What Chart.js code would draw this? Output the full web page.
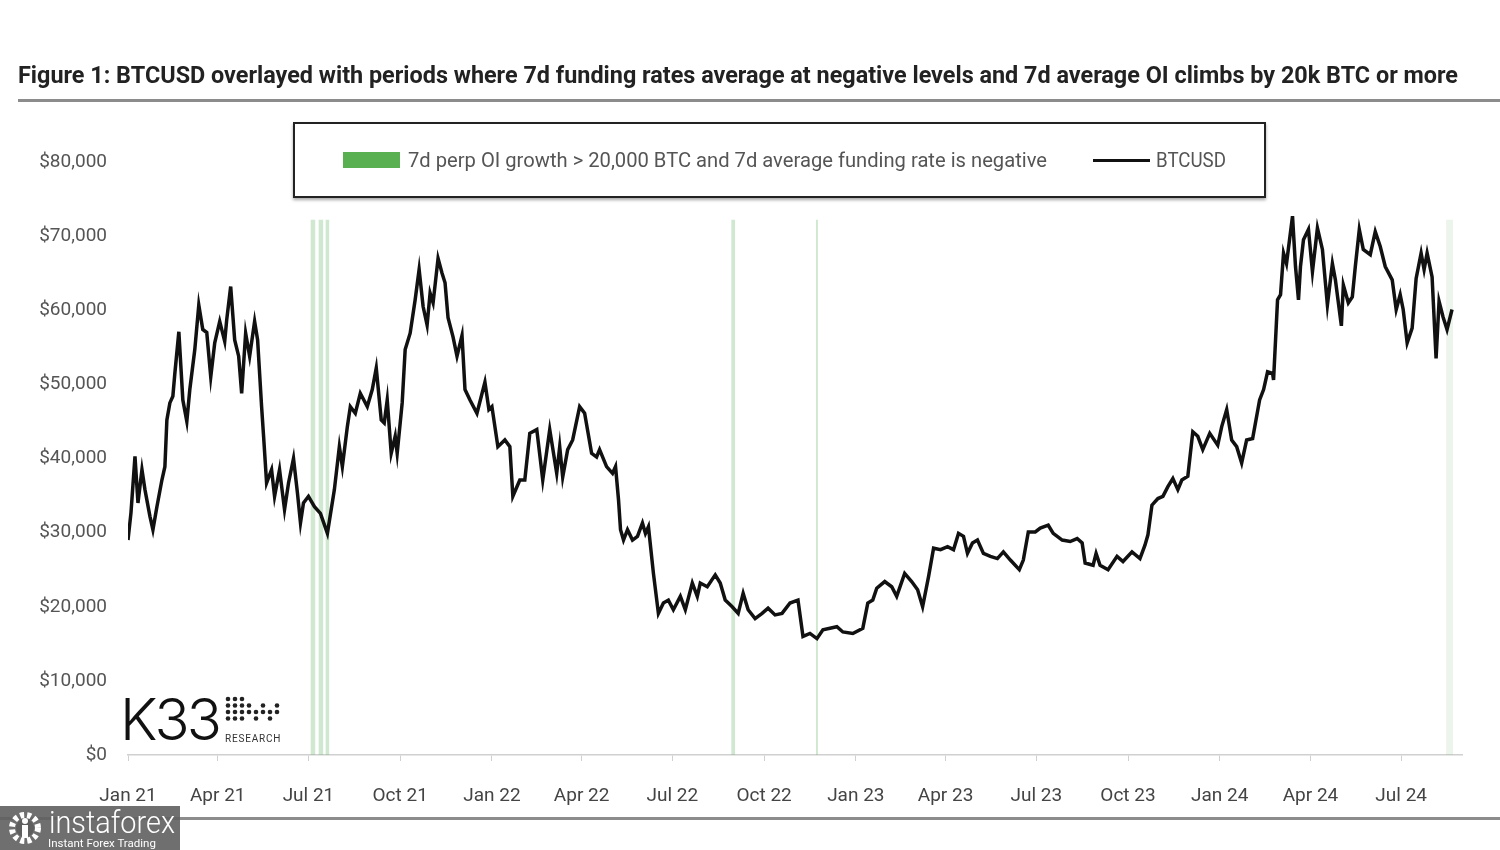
<!DOCTYPE html>
<html>
<head>
<meta charset="utf-8">
<script src="https://cdn.jsdelivr.net/npm/chart.js@4.4.1/dist/chart.umd.min.js"></script>
<style>
  body { margin: 0; background: #fff; overflow: hidden; font-family: Roboto, sans-serif; }
  #wrap { position: relative; width: 1500px; height: 850px; }
  #chart-box { position: absolute; left: 0; top: 0; width: 1500px; height: 850px; }
  .title { position: absolute; left: 18px; top: 61px; font-size: 24px; font-weight: 700; color: #222; white-space: nowrap; transform-origin: left top; }
  .rule { position: absolute; background: #8c8c8c; height: 3px; }
  .legend { position: absolute; left: 293px; top: 122px; width: 969px; height: 72px; border: 2px solid #222; box-shadow: 0 2px 3px rgba(0,0,0,0.35); background: #fff; }
  .legend .swatch { position: absolute; left: 48px; top: 28px; width: 57px; height: 16px; background: #58b050; }
  .legend .txt { position: absolute; top: 24px; font-size: 20px; color: #555; white-space: nowrap; transform-origin: left top; }
  .legend .ln { position: absolute; left: 798px; top: 35px; width: 57px; height: 3px; background: #111; }
  .k33 { position: absolute; left: 120px; top: 684px; font-family: Inter, sans-serif; font-weight: 300; font-size: 58px; letter-spacing: -3px; color: #111; }
  .research { position: absolute; left: 225px; top: 733px; font-size: 10px; letter-spacing: 0.8px; color: #333; }
  .insta { position: absolute; left: 0; top: 806px; width: 180px; height: 44px; background: rgba(95,95,95,0.9); color: #fff; }
  .insta .big { position: absolute; left: 49px; top: -3px; font-size: 32px; font-weight: 300; white-space: nowrap; transform-origin: left top; }
  .insta .small { position: absolute; left: 48px; top: 30px; font-size: 11.5px; white-space: nowrap; }
</style>
</head>
<body>
<div id="wrap">
  <div id="chart-box"><canvas id="chart"></canvas></div>
  <div class="title" id="title">Figure 1: BTCUSD overlayed with periods where 7d funding rates average at negative levels and 7d average OI climbs by 20k BTC or more</div>
  <div class="rule" style="left:18px; top:99px; width:1482px;"></div>
  <div class="rule" style="left:0; top:817px; width:1500px;"></div>
  <div class="legend">
    <div class="swatch"></div>
    <div class="txt" id="legend-text" style="left:113px;">7d perp OI growth &gt; 20,000 BTC and 7d average funding rate is negative</div>
    <div class="ln"></div>
    <div class="txt" id="legend-btc" style="left:861px;">BTCUSD</div>
  </div>
  <div class="k33">K33</div>
  <svg id="dots" style="position:absolute; left:224px; top:695px;" width="58" height="30"></svg>
  <div class="research">RESEARCH</div>
  <div class="insta">
    <svg style="position:absolute; left:6px; top:4px;" width="38" height="36" viewBox="0 0 38 36">
      <circle cx="19" cy="18" r="13" fill="none" stroke="#fff" stroke-width="6" stroke-dasharray="4 3"/>
      <circle cx="19" cy="18" r="9" fill="rgba(95,95,95,1)"/>
      <circle cx="19" cy="11" r="3" fill="#fff"/>
      <rect x="16" y="15" width="6" height="13" fill="#fff"/>
    </svg>
    <div class="big" id="insta-big">instaforex</div>
    <div class="small">Instant Forex Trading</div>
  </div>
</div>
<script>
// days since 1 Jan 2021
const days = [
  0, 3, 7, 10, 14, 17, 22, 25, 29, 34, 37, 39, 42, 45, 47, 51, 55, 59, 62, 67,
  71, 75, 79, 83, 87, 92, 97, 99, 103, 107, 111, 114, 118, 122, 127, 130, 134, 136, 139, 144,
  147, 152, 157, 161, 166, 170, 173, 176, 181, 187, 193, 200, 207, 212, 215, 220, 223, 228, 233, 240,
  245, 249, 254, 257, 260, 264, 268, 270, 275, 278, 283, 288, 292, 296, 300, 303, 306, 311, 315, 318,
  321, 326, 330, 335, 338, 343, 350, 358, 362, 365, 371, 378, 383, 386, 393, 398, 403, 410, 416, 423,
  430, 433, 436, 441, 446, 453, 458, 465, 470, 473, 480, 486, 489, 492, 494, 497, 501, 506, 511, 516,
  519, 522, 527, 532, 537, 542, 547, 554, 559, 566, 571, 574, 581, 589, 594, 599, 606, 612, 617, 622,
  629, 636, 642, 649, 656, 664, 672, 677, 684, 691, 697, 711, 717, 727, 737, 742, 747, 751, 759, 766,
  771, 779, 786, 792, 797, 803, 808, 815, 822, 828, 833, 838, 842, 847, 852, 858, 865, 872, 878, 885,
  894, 898, 903, 910, 915, 923, 928, 937, 945, 952, 957, 960, 968, 971, 975, 983, 992, 998, 1007, 1015,
  1020, 1023, 1027, 1033, 1038, 1043, 1048, 1053, 1057, 1063, 1068, 1073, 1078, 1085, 1093, 1097, 1102, 1107, 1112, 1117,
  1122, 1128, 1135, 1139, 1143, 1148, 1149, 1153, 1156, 1159, 1162, 1168, 1171, 1174, 1176, 1179, 1184, 1188, 1193, 1198,
  1201, 1203, 1208, 1211, 1217, 1219, 1224, 1228, 1231, 1235, 1239, 1246, 1251, 1256, 1261, 1268, 1272, 1276, 1279, 1283,
  1288, 1292, 1297, 1300, 1303, 1308, 1312, 1315, 1319, 1323, 1328
];
const btcusd = [
  29000, 32700, 40300, 34000, 38500, 35800, 32200, 30400, 33500, 37100, 38900, 45200, 47500, 48400, 51500, 57100, 47900, 45000, 49300, 54700,
  60700, 57400, 57000, 51000, 55600, 58500, 55800, 58700, 63200, 56000, 53800, 48800, 56900, 53800, 58500, 56000, 47000, 43000, 36700, 38500,
  34900, 38500, 33100, 36700, 40000, 35300, 31300, 34000, 34900, 33500, 32600, 29900, 35800, 41600, 38900, 44300, 47000, 46100, 48800, 47000,
  49300, 52200, 45200, 44800, 47900, 40700, 43000, 40700, 47500, 54700, 56900, 61400, 65500, 60500, 58000, 62300, 61000, 67000, 65000, 63700,
  59000, 56400, 53800, 56600, 49300, 47900, 46100, 50300, 46600, 47000, 41600, 42500, 41600, 34900, 37100, 37100, 43400, 43900, 37100, 43900,
  38000, 41600, 37500, 41200, 42500, 47000, 46100, 40700, 40200, 41200, 38900, 38000, 38900, 34400, 30400, 29000, 30400, 29000, 29500, 31300,
  29900, 30800, 24500, 19100, 20500, 20900, 19600, 21400, 19600, 23200, 21400, 23200, 22700, 24300, 23200, 20900, 20000, 19100, 21800, 19600,
  18400, 19100, 19800, 18900, 19100, 20500, 20900, 16000, 16400, 15700, 16900, 17300, 16600, 16400, 17100, 20500, 20900, 22500, 23400, 22700,
  21400, 24500, 23400, 22300, 20000, 24100, 27900, 27700, 28100, 27700, 29900, 29500, 27200, 28600, 29000, 27200, 26800, 26500, 27400, 26300,
  25000, 26300, 30100, 30100, 30600, 31000, 29900, 29000, 28800, 29200, 28600, 25900, 25600, 27200, 25600, 25000, 26800, 26100, 27400, 26500,
  28300, 29700, 33700, 34600, 34900, 36200, 37300, 35800, 37100, 37600, 43600, 43000, 41200, 43400, 41800, 44300, 46600, 42500, 41600, 39400,
  42500, 42700, 47900, 49300, 51700, 51500, 50600, 61400, 62100, 67700, 66300, 72700, 65900, 61400, 65900, 69500, 70900, 65200, 71100, 68200,
  63700, 60700, 66300, 64100, 57900, 63400, 61000, 61800, 65900, 70900, 68200, 67500, 70600, 68600, 65900, 64100, 60100, 62100, 60100, 55600,
  57600, 64300, 67700, 65500, 67700, 64500, 53500, 61200, 59100, 57400, 60100
];

// shaded periods (start/end day)
const bandStart = [183, 191, 198, 605, 690, 1322];
const bandEnd = [188, 196, 202, 609, 692, 1329];
const bandTop = 72200;

const tickDays = [0, 90, 181, 273, 365, 455, 546, 638, 730, 820, 911, 1003, 1095, 1186, 1277];
const tickLabels = ['Jan 21', 'Apr 21', 'Jul 21', 'Oct 21', 'Jan 22', 'Apr 22', 'Jul 22', 'Oct 22',
  'Jan 23', 'Apr 23', 'Jul 23', 'Oct 23', 'Jan 24', 'Apr 24', 'Jul 24'];

Chart.defaults.font.family = 'Roboto';

// fit text to the reference width
function fitWidth(id, w) {
  const el = document.getElementById(id);
  const cur = el.getBoundingClientRect().width;
  el.style.transform = `scaleX(${w / cur})`;
}
fitWidth('title', 1440);
fitWidth('legend-text', 639);
fitWidth('legend-btc', 70);
fitWidth('insta-big', 126);

// K33 dot mark
const dotSvg = document.getElementById('dots');
const dotRows = ['111.....', '1111.1.1', '11111111', '111.1.1.'];
dotRows.forEach((row, r) => {
  row.split('').forEach((c, i) => {
    if (c === '1') {
      const dot = document.createElementNS('http://www.w3.org/2000/svg', 'circle');
      dot.setAttribute('cx', 4 + i * 7);
      dot.setAttribute('cy', 4 + r * 6.5);
      dot.setAttribute('r', 2.3);
      dot.setAttribute('fill', '#222');
      dotSvg.appendChild(dot);
    }
  });
});

const lineData = days.map((d, i) => ({ x: d, y: btcusd[i] }));

const datasets = [{
  label: 'BTCUSD',
  data: lineData,
  borderColor: '#111',
  borderWidth: 3.5,
  pointRadius: 0,
  tension: 0,
  fill: false
}];

bandStart.forEach((s, i) => {
  const faint = bandStart[i] > 1300;
  datasets.push({
    label: 'band' + i,
    data: [{ x: s, y: bandTop }, { x: bandEnd[i], y: bandTop }],
    borderWidth: 0,
    pointRadius: 0,
    fill: 'origin',
    backgroundColor: faint ? 'rgba(130,190,130,0.15)' : 'rgba(120,190,120,0.35)'
  });
});

new Chart(document.getElementById('chart'), {
  type: 'line',
  data: { datasets: datasets },
  options: {
    responsive: true,
    maintainAspectRatio: false,
    animation: false,
    layout: { padding: { top: 162, right: 38, bottom: 40, left: 0 } },
    plugins: {
      legend: { display: false },
      tooltip: { enabled: false }
    },
    scales: {
      x: {
        type: 'linear',
        min: 0,
        max: 1338,
        afterBuildTicks: function (scale) {
          scale.ticks = tickDays.map(v => ({ value: v }));
        },
        afterFit: function (scale) { scale.height = 55; },
        ticks: {
          autoSkip: false,
          maxRotation: 0,
          padding: 24,
          color: '#444',
          font: { size: 19 },
          callback: function (value) { return tickLabels[tickDays.indexOf(value)]; }
        },
        grid: { drawOnChartArea: false, drawTicks: true, tickLength: 6, color: '#d0d0d0' },
        border: { display: true, color: '#d0d0d0', width: 1.5 }
      },
      y: {
        min: 0,
        max: 80000,
        afterFit: function (scale) { scale.width = 128; },
        ticks: {
          stepSize: 10000,
          padding: 21,
          color: '#555',
          font: { size: 19 },
          callback: function (value) { return '$' + value.toLocaleString('en-US'); }
        },
        grid: { display: false, drawTicks: false },
        border: { display: false }
      }
    }
  }
});
</script>
</body>
</html>
